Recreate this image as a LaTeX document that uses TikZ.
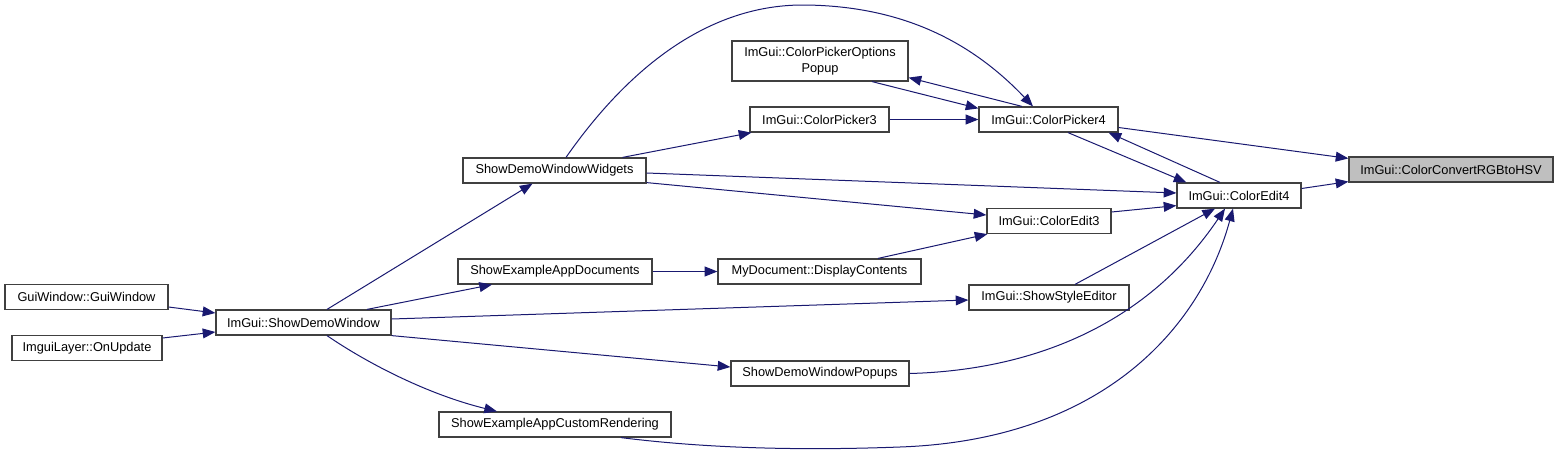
\documentclass[tikz,border=0pt]{standalone}
\usepackage{fontspec}
\setmainfont{Liberation Sans}
\usepackage{tikz}
\usetikzlibrary{arrows.meta,calc}
\definecolor{edgeblue}{HTML}{191970}

\begin{document}
\begin{tikzpicture}[x=0.75pt,y=-0.75pt,
	fn/.style={draw=black!75, line width=0.9pt, fill=white, inner sep=0pt, minimum height=18.75pt, font=\fontsize{9.6}{12}\selectfont},
	call/.style={draw=edgeblue, line width=0.75pt, -{Triangle[length=9.5pt,width=7.4pt]}}]
	\useasboundingbox (0,0) rectangle (1557,457);
	\foreach 
	\name/\x/\y/\w/\txt
	in
	{
		ce4/1239/195.5/93/ImGui::ColorEdit4,
		cp4/1048.5/119.5/104.25/ImGui::ColorPicker4,
		cp3/819.5/119.5/104.25/ImGui::ColorPicker3,
		ce3/1049/221/93/ImGui::ColorEdit3,
		sse/1049/297.5/120/ImGui::ShowStyleEditor,
		mddc/819.5/271.5/152.25/MyDocument::DisplayContents,
		sdwp/820/373.5/133.5/ShowDemoWindowPopups,
		sdww/554.5/170.5/137.25/ShowDemoWindowWidgets,
		sead/555/271.5/145.5/ShowExampleAppDocuments,
		sacr/555/424.5/174/ShowExampleAppCustomRendering,
		sdw/303.5/322.5/131.25/ImGui::ShowDemoWindow,
		gw/86.5/297/122.25/GuiWindow::GuiWindow,
		ilu/87/348/112.5/ImguiLayer::OnUpdate
	}
	{
		\node[fn, minimum width=\w pt] (\name) at (\x,\y) {\txt};
	}
	\node[fn, fill=black!25, minimum width=153pt] (hsv) at (1451,169.5) {ImGui::ColorConvertRGBtoHSV};
	\node[fn, minimum width=132pt, minimum height=30pt, align=center] (cpop) at (820,61) {ImGui::ColorPickerOptions\\Popup};
	% straight calls
	\draw[call] ($(cp4.east)+(0,8)$) -- ($(hsv.north west)+(0,2)$);
	\draw[call] ($(ce4.east)+(0,-7)$) -- ($(hsv.south west)+(0,-1)$);
	\draw[call] ($(cp4.south)+(19.5,0)$) -- ($(ce4.north west)+(10,0)$);
	\draw[call] ($(ce4.north)+(-19,0)$) -- ($(cp4.south east)+(-10,0)$);
	\draw[call] ($(cpop.south)+(52,0)$) -- ($(cp4.north west)+(0,2)$);
	\draw[call] ($(cp4.north)+(-26.5,0)$) -- ($(cpop.south east)+(0,-4)$);
	\draw[call] (cp3.east) -- (cp4.west);
	\draw[call] ($(sdww.north)+(68,0)$) -- ($(cp3.south west)+(2,0)$);
	\draw[call] ($(sdww.east)+(0,2.5)$) -- ($(ce4.west)+(0,-2.5)$);
	\draw[call] ($(sdww.south east)+(0,-1)$) -- ($(ce3.west)+(0,-6)$);
	\draw[call] ($(ce3.east)+(0,-9)$) -- ($(ce4.south west)+(0,-3)$);
	\draw[call] ($(mddc.north)+(58.5,0)$) -- ($(ce3.south west)+(1,0)$);
	\draw[call] (sead.east) -- (mddc.west);
	\draw[call] ($(sse.north)+(26,0)$) -- ($(ce4.south)+(-24,0)$);
	\draw[call] ($(sdw.north)+(23.5,0)$) -- ($(sdww.south)+(-22,0)$);
	\draw[call] ($(sdw.north)+(63.5,0)$) -- ($(sead.south)+(-63,0)$);
	\draw[call] ($(sdw.east)+(0,-3.5)$) -- ($(sse.west)+(0,2.5)$);
	\draw[call] (sdw.south east) -- ($(sdwp.west)+(0,-6.5)$);
	\draw[call] ($(gw.east)+(0,10)$) -- ($(sdw.west)+(0,-9.5)$);
	\draw[call] ($(ilu.east)+(0,-10)$) -- ($(sdw.west)+(0,9.5)$);
	% curved calls
	\draw[call] ($(sdww.north)+(11.5,0)$) .. controls (620,80) and (700,4) .. (805,5) .. controls (900,6) and (970,40) .. ($(cp4.north)+(-15.5,0)$);
	\draw[call] (sdwp.east) .. controls (1040,370) and (1150,320) .. ($(ce4.south)+(-14,0)$);
	\draw[call] ($(sacr.south)+(66,0)$) .. controls (720,450) and (820,450) .. (900,447) .. controls (1100,440) and (1200,330) .. ($(ce4.south)+(-6,0)$);
	\draw[call] ($(sdw.south)+(23.5,0)$) .. controls (370,365) and (430,395) .. ($(sacr.north)+(-58,0)$);
\end{tikzpicture}
\end{document}
